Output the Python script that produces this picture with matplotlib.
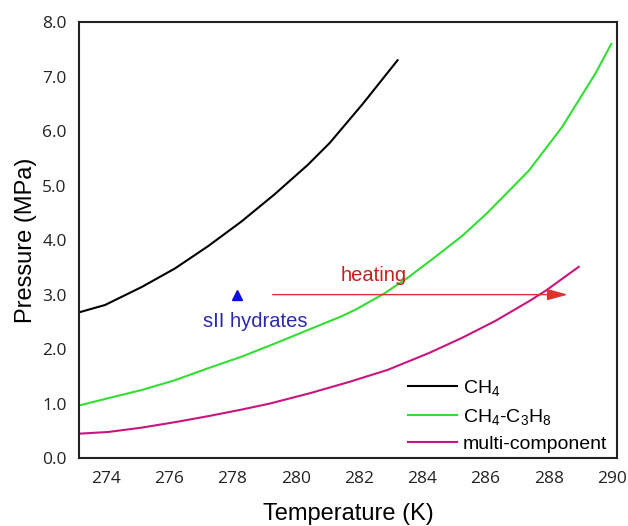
import matplotlib
matplotlib.use("Agg")
import matplotlib.pyplot as plt
import numpy as np

# hydrate equilibrium curves
t_ch4 = [273.18, 273.97, 275.13, 276.18, 277.23, 278.28, 279.33, 280.38, 281.07, 282.12, 283.22]
p_ch4 = [2.68, 2.81, 3.14, 3.48, 3.89, 4.34, 4.84, 5.38, 5.78, 6.50, 7.30]

t_mix = [273.18, 274.07, 275.13, 276.18, 277.23, 278.28, 279.33, 280.38, 281.44, 281.91,
         282.80, 283.59, 284.43, 285.27, 286.06, 287.38, 288.43, 289.48, 289.98]
p_mix = [0.97, 1.10, 1.25, 1.43, 1.65, 1.86, 2.10, 2.35, 2.60, 2.73,
         3.02, 3.33, 3.70, 4.08, 4.50, 5.28, 6.08, 7.06, 7.60]

t_multi = [273.18, 274.07, 275.13, 276.18, 277.23, 278.28, 279.17, 280.44, 281.70,
           282.91, 284.22, 285.27, 286.32, 287.38, 287.90, 288.95]
p_multi = [0.45, 0.48, 0.56, 0.66, 0.77, 0.89, 1.00, 1.19, 1.40,
           1.62, 1.93, 2.21, 2.52, 2.88, 3.07, 3.51]

point_t, point_p = 278.13, 3.0
heat_start, heat_end = 279.27, 288.6

plt.rcParams['font.family'] = ['Liberation Sans', 'DejaVu Sans']
plt.rcParams['mathtext.fontset'] = 'custom'
plt.rcParams['mathtext.rm'] = 'Liberation Sans'
plt.rcParams['mathtext.it'] = 'Liberation Sans'

fig = plt.figure(figsize=(6.28, 5.26), dpi=100)
ax = fig.add_axes([0.126, 0.129, 0.856, 0.829])

ax.plot(t_ch4, p_ch4, color='black', lw=1.5, label='CH$_4$')
ax.plot(t_mix, p_mix, color='#33dd33', lw=1.5, label='CH$_4$-C$_3$H$_8$')
ax.plot(t_multi, p_multi, color='#c8157f', lw=1.5, label='multi-component')

ax.plot([point_t], [point_p], marker='^', color='#1010dd', ms=7, ls='none')
ax.text(point_t + 0.6, point_p - 0.49, 'sII hydrates', color='#2a2aa8',
        fontsize=14.5, ha='center', va='center')

ax.annotate('', xy=(heat_end, point_p), xytext=(heat_start, point_p),
            arrowprops=dict(arrowstyle='-|>,head_length=0.9,head_width=0.25',
                            color='#e03030', lw=1.0,
                            mutation_scale=14, shrinkA=0, shrinkB=0))
ax.text(282.45, point_p + 0.36, 'heating', color='#c42020', fontsize=14.5,
        ha='center', va='center')

ax.set_xlim(273.15, 290.15)
ax.set_ylim(0, 8)
ax.set_xticks(np.arange(274, 291, 2))
ax.set_yticks(np.arange(0, 8.1, 1.0))
ax.set_yticklabels([f"{v:.1f}" for v in np.arange(0, 8.1, 1.0)])
ax.tick_params(length=0, labelsize=12.5, pad=9)
for lab in ax.get_xticklabels() + ax.get_yticklabels():
    lab.set_family('Open Sans')
    lab.set_color('#222222')

for s in ax.spines.values():
    s.set_linewidth(1.5)
    s.set_color('#222222')

ax.set_xlabel('Temperature (K)', fontsize=17, labelpad=12)
ax.set_ylabel('Pressure (MPa)', fontsize=17, labelpad=4)

ax.legend(loc='lower right', bbox_to_anchor=(0.997, -0.006), frameon=False,
          fontsize=14, handlelength=2.5, handletextpad=0.3, labelspacing=0.45,
          borderaxespad=0.0)

fig.savefig('out.png', dpi=100)
